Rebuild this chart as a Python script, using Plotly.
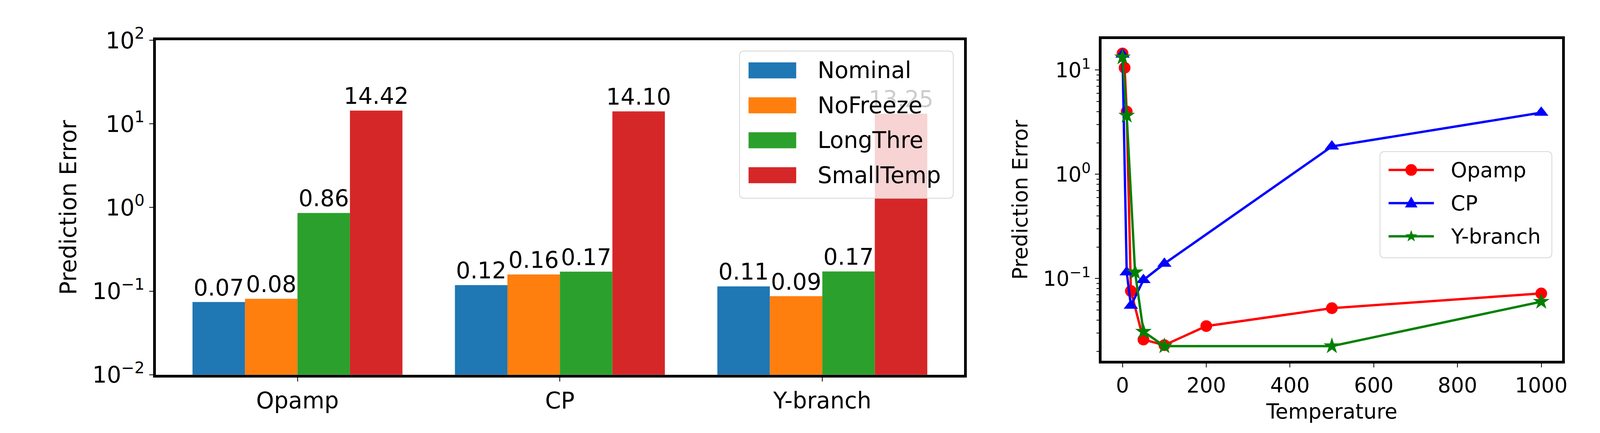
import math
import plotly.graph_objects as go

# %%
# bar chart data (left panel)
categories = ['Opamp', 'CP', 'Y-branch']
methods = ['Nominal', 'NoFreeze', 'LongThre', 'SmallTemp']
nominal = [0.074, 0.118, 0.114]
nofreeze = [0.081, 0.158, 0.087]
longthre = [0.86, 0.171, 0.172]
smalltemp = [14.42, 14.10, 13.25]
bar_colors = ['#1f77b4', '#ff7f0e', '#2ca02c', '#d62728']

# temperature sweep data (right panel)
temp_opamp = [0, 5, 10, 20, 50, 100, 200, 500, 1000]
err_opamp = [14.42, 10.5, 4.0, 0.076, 0.026, 0.023, 0.035, 0.052, 0.072]
temp_cp = [0, 10, 20, 50, 100, 500, 1000]
err_cp = [14.10, 0.115, 0.055, 0.097, 0.139, 1.85, 3.9]
temp_yb = [0, 10, 30, 50, 100, 500, 1000]
err_yb = [13.25, 3.66, 0.115, 0.031, 0.0225, 0.0225, 0.060]
circuits = ['Opamp', 'CP', 'Y-branch']
line_colors = ['red', 'blue', 'green']
line_symbols = ['circle', 'triangle-up', 'star']

left_ticks = [0.01, 0.1, 1, 10, 100]
left_ticktext = ['10<sup>−2</sup>', '10<sup>−1</sup>', '10<sup>0</sup>', '10<sup>1</sup>', '10<sup>2</sup>']
right_ticks = [0.1, 1, 10]
right_ticktext = ['10<sup>−1</sup>', '10<sup>0</sup>', '10<sup>1</sup>']
minor_ticks = [m * 10 ** e for e in range(-2, 2) for m in range(2, 10)]

FONT = 'DejaVu Sans'
FS_L = 58
FS_R = 53

# %%
fig = go.Figure()

for name, vals, col in zip(methods, [nominal, nofreeze, longthre, smalltemp], bar_colors):
    fig.add_trace(go.Bar(x=categories, y=vals, name=name, marker_color=col,
                         marker_line_width=0, showlegend=False,
                         texttemplate='%{y:.2f}', textposition='outside',
                         constraintext='none', cliponaxis=False,
                         textfont=dict(size=FS_L, color='black'),
                         xaxis='x', yaxis='y'))

marker_sizes = [30, 32, 32]
for name, tx, ty, col, sym, ms in zip(circuits, [temp_opamp, temp_cp, temp_yb],
                                       [err_opamp, err_cp, err_yb],
                                       line_colors, line_symbols, marker_sizes):
    fig.add_trace(go.Scatter(x=tx, y=ty, name=name, mode='lines+markers',
                             line=dict(color=col, width=6),
                             marker=dict(color=col, symbol=sym, size=ms, line_width=0),
                             showlegend=False, xaxis='x2', yaxis='y2'))


# %%
# legends are drawn by hand (matplotlib look: wide patches, big markers),
# anchored at the top right corner of the box, offsets in pixels
def px_shape(ax, ay, **kw):
    d = dict(xref='paper', yref='paper', layer='above',
             xsizemode='pixel', ysizemode='pixel', xanchor=ax, yanchor=ay)
    d.update(kw)
    return d


def round_box(w, h, r=12):
    return (f'M{-w + r},0 L{-r},0 Q0,0 0,{-r} L0,{-h + r} Q0,{-h} {-r},{-h} '
            f'L{-w + r},{-h} Q{-w},{-h} {-w},{-h + r} L{-w},{-r} Q{-w},0 {-w + r},0 Z')


def poly_path(pts):
    return 'M' + ' L'.join(f'{x:.1f},{y:.1f}' for x, y in pts) + ' Z'


def marker_path(sym, cx, cy):
    if sym == 'triangle-up':
        pts = [(cx, cy + 17), (cx - 16, cy - 11), (cx + 16, cy - 11)]
    else:
        pts = []
        for k in range(10):
            rr = 16 if k % 2 == 0 else 6.5
            a = math.pi / 2 + k * math.pi / 5
            pts.append((cx + rr * math.cos(a), cy + rr * math.sin(a)))
    return poly_path(pts)


shapes = []
annotations = []

# left legend
lax, lay = 0.5982, 0.9206
shapes.append(px_shape(lax, lay, type='path', path=round_box(547, 377),
                       fillcolor='rgba(255,255,255,0.8)', line=dict(color='#d6d6d6', width=2)))
for i, (name, col) in enumerate(zip(methods, bar_colors)):
    cy = -49.5 - 89.5 * i
    shapes.append(px_shape(lax, lay, type='rect', x0=-524, x1=-402, y0=cy - 20.5, y1=cy + 20.5,
                           fillcolor=col, line_width=0))
    annotations.append(dict(text=name, xref='paper', yref='paper', x=lax, y=lay,
                            xshift=-349, yshift=cy, xanchor='left', yanchor='middle',
                            showarrow=False, font=dict(size=FS_L, color='black')))

# right legend
rax, ray = 0.9751, 0.6673
shapes.append(px_shape(rax, ray, type='path', path=round_box(440, 272),
                       fillcolor='rgba(255,255,255,0.8)', line=dict(color='#d6d6d6', width=2)))
for i, (name, col, sym) in enumerate(zip(circuits, line_colors, line_symbols)):
    cy = -47 - 85 * i
    shapes.append(px_shape(rax, ray, type='line', x0=-418, x1=-302, y0=cy, y1=cy,
                           line=dict(color=col, width=6)))
    if sym == 'circle':
        shapes.append(px_shape(rax, ray, type='circle', x0=-375, x1=-345, y0=cy - 15, y1=cy + 15,
                               fillcolor=col, line_width=0))
    else:
        shapes.append(px_shape(rax, ray, type='path', path=marker_path(sym, -360, cy),
                               fillcolor=col, line_width=0))
    annotations.append(dict(text=name, xref='paper', yref='paper', x=rax, y=ray,
                            xshift=-261, yshift=cy, xanchor='left', yanchor='middle',
                            showarrow=False, font=dict(size=FS_R, color='black')))

axis_common = dict(showline=True, linecolor='black', linewidth=7, mirror=True,
                   ticks='outside', ticklen=10, tickwidth=2, tickcolor='black',
                   showgrid=False, zeroline=False)

# size is left to the browser window so the whole figure stays on screen
fig.update_layout(
    autosize=True,
    margin=dict(l=0, r=0, t=0, b=0),
    paper_bgcolor='white', plot_bgcolor='white',
    font=dict(family=FONT, color='black'),
    showlegend=False,
    barmode='group', bargap=0.2, bargroupgap=0,
    xaxis=dict(domain=[0.0961, 0.6050], anchor='y', type='category',
               range=[-0.54, 2.54], tickfont=dict(size=FS_L), **axis_common),
    yaxis=dict(domain=[0.1055, 0.9477], anchor='x', type='log', range=[-2, 2],
               tickmode='array', tickvals=left_ticks, ticktext=left_ticktext,
               tickfont=dict(size=FS_L),
               title=dict(text='Prediction Error', font=dict(size=FS_L), standoff=25),
               **axis_common),
    xaxis2=dict(domain=[0.6916, 0.9816], anchor='y2', range=[-50, 1050],
                tickmode='linear', tick0=0, dtick=200, tickfont=dict(size=FS_R),
                title=dict(text='Temperature', font=dict(size=FS_R), standoff=22),
                **axis_common),
    yaxis2=dict(domain=[0.1407, 0.9513], anchor='x2', type='log', range=[-1.788, 1.299],
                tickmode='array', tickvals=right_ticks, ticktext=right_ticktext,
                tickfont=dict(size=FS_R),
                minor=dict(tickmode='array', tickvals=minor_ticks, ticks='outside',
                           ticklen=6, tickwidth=2, tickcolor='black', showgrid=False),
                title=dict(text='Prediction Error', font=dict(size=FS_R), standoff=25),
                **axis_common),
    shapes=shapes,
    annotations=annotations,
)

fig.write_html("out.html", default_width='100%', default_height='calc(100vh - 16px)')
